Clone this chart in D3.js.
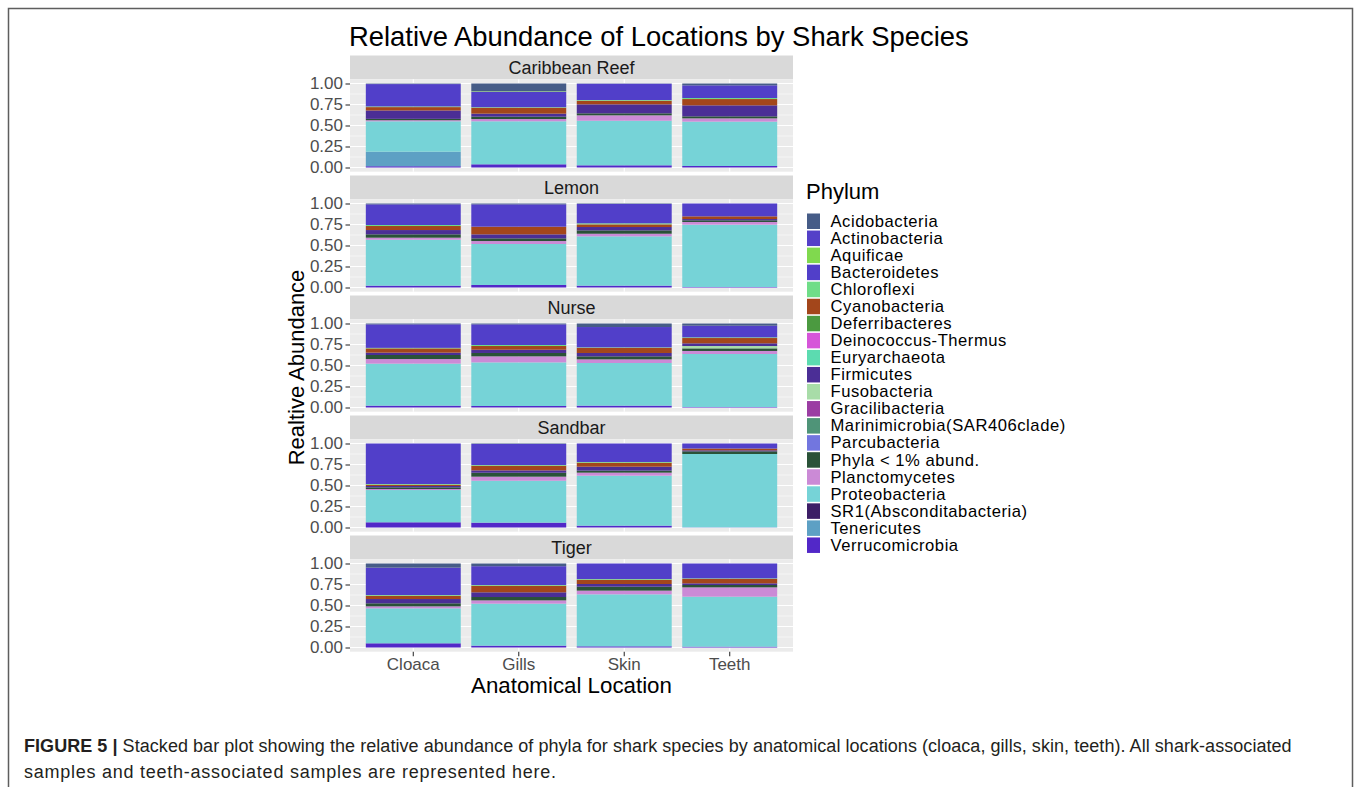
<!DOCTYPE html>
<html>
<head>
<meta charset="utf-8">
<script src="https://cdn.jsdelivr.net/npm/d3@7"></script>
<style>
  body { margin: 0; background: #fff; }
  svg { display: block; font-family: "Liberation Sans", Arial, sans-serif; }
</style>
</head>
<body>
<svg id="chart" width="1360" height="787"></svg>
<script>
// Facets (shark species) and bar categories (anatomical location)
const species = ["Caribbean Reef", "Lemon", "Nurse", "Sandbar", "Tiger"];
const locations = ["Cloaca", "Gills", "Skin", "Teeth"];
const yTicks = [0, 0.25, 0.5, 0.75, 1];

// Phyla in legend order (first level sits on top of each stack)
const phyla = [
  "Acidobacteria", "Actinobacteria", "Aquificae", "Bacteroidetes", "Chloroflexi",
  "Cyanobacteria", "Deferribacteres", "Deinococcus-Thermus", "Euryarchaeota", "Firmicutes",
  "Fusobacteria", "Gracilibacteria", "Marinimicrobia(SAR406clade)", "Parcubacteria",
  "Phyla < 1% abund.", "Planctomycetes", "Proteobacteria", "SR1(Absconditabacteria)",
  "Tenericutes", "Verrucomicrobia"
];
const phylumColors = [
  "#465c87", "#5440c8", "#80d94e", "#513fc9", "#6fdd88",
  "#a3461b", "#4b9a40", "#d655d9", "#5cdbb0", "#4b2e96",
  "#a8dca8", "#9b3da3", "#4f9478", "#7276df",
  "#2a5238", "#cb8ad6", "#76d3d7", "#3d1e66",
  "#5da0c4", "#5228c8"
];

// Relative abundance per phylum, 20 values each:
// Caribbean Reef (Cloaca, Gills, Skin, Teeth), Lemon (...), Nurse (...), Sandbar (...), Tiger (...)
const acidobacteria   = [.006,.091,.003,.022, .010,.010,.006,0,    .010,.010,.042,.026, 0,.006,0,0,       .049,.032,0,0];
const actinobacteria  = [0,0,0,0, 0,0,0,0, 0,0,0,0, 0,0,0,0, 0,0,0,0];
const aquificae       = [0,.006,0,0, 0,0,0,0, 0,0,0,0, 0,0,0,0, 0,0,0,0];
const bacteroidetes   = [.266,.185,.194,.151, .246,.266,.230,.153, .280,.246,.242,.139, .482,.250,.220,.060, .326,.224,.185,.177];
const chloroflexi     = [.008,.006,.008,.012, .012,0,.012,0,     .006,.012,.006,.008, .008,.008,.008,0,   .008,.008,.008,.006];
const cyanobacteria   = [.040,.071,.043,.075, .048,.091,.032,.032, .051,.044,.061,.063, .016,.056,.048,.021, .040,.079,.051,.053];
const deferribacteres = [0,0,0,0, 0,0,0,0, 0,0,0,0, 0,0,0,0, 0,0,0,0];
const deinococcus     = [0,0,0,0, 0,0,0,0, 0,0,0,0, 0,0,0,0, 0,0,0,0];
const euryarchaeota   = [0,0,0,0, 0,0,0,0, 0,0,0,0, 0,0,0,0, 0,0,0,0];
const firmicutes      = [.100,.036,.107,.131, .051,.048,.040,.015, .028,.039,.040,.032, .016,.028,.047,.012, .051,.056,.032,.020];
const fusobacteria    = [0,0,0,0, 0,0,0,0, 0,0,0,.028, 0,0,0,0, 0,0,0,0];
const gracilibacteria = [0,0,0,0, 0,0,0,0, 0,0,0,0, 0,0,0,0, 0,0,0,0];
const marinimicrobia  = [0,0,0,0, 0,0,0,0, 0,0,0,0, 0,0,0,0, 0,0,0,0];
const parcubacteria   = [0,0,0,0, 0,0,0,0, 0,0,0,0, 0,0,0,0, 0,0,0,0];
const phylaLowAbund   = [.016,.028,.024,.024, .040,.032,.040,.020, .048,.040,.036,.031, .020,.047,.024,.032, .036,.040,.047,.028];
const planctomycetes  = [.013,.027,.064,.039, .024,.035,.031,.032, .055,.072,.043,.036, .012,.048,.036,0,   .024,.039,.044,.111];
const proteobacteria  = [.362,.512,.531,.528, .547,.488,.587,.742, .500,.519,.508,.631, .384,.499,.595,.873, .416,.500,.619,.595];
const sr1             = [0,0,0,0, 0,0,0,0, 0,0,0,0, 0,0,0,0, 0,0,0,0];
const tenericutes     = [.173,0,0,0, 0,0,0,0, 0,0,0,0, 0,0,0,0, 0,0,0,0];
const verrucomicrobia = [.015,.038,.026,.018, .022,.030,.022,.006, .022,.018,.022,.006, .062,.058,.022,.002, .050,.022,.014,.010];

const phylumValues = [
  acidobacteria, actinobacteria, aquificae, bacteroidetes, chloroflexi,
  cyanobacteria, deferribacteres, deinococcus, euryarchaeota, firmicutes,
  fusobacteria, gracilibacteria, marinimicrobia, parcubacteria,
  phylaLowAbund, planctomycetes, proteobacteria, sr1, tenericutes, verrucomicrobia
];

// Build one row per (species, location)
const rows = [];
species.forEach((sp, si) => {
  locations.forEach((loc, li) => {
    const r = { species: sp, location: loc };
    phyla.forEach((p, pi) => { r[p] = phylumValues[pi][si * locations.length + li]; });
    rows.push(r);
  });
});

const color = d3.scaleOrdinal().domain(phyla).range(phylumColors);

// Stack from the bottom with the last level first
const stack = d3.stack().keys(phyla.slice().reverse());

const svg = d3.select("#chart");
const font = '"Liberation Sans", Arial, sans-serif';

// Figure frame
svg.append("path")
  .attr("d", "M8.5,800 V8.5 H1352.5 V800")
  .attr("fill", "none")
  .attr("stroke", "#5e5e5e")
  .attr("stroke-width", 1.5);

// Layout of the faceted panels
const panelLeft = 350, panelRight = 793;
const facetTop0 = 55.5, facetStep = 120, stripH = 23.8, panelH = 92.4;

const x = d3.scaleBand()
  .domain(locations)
  .range([panelLeft, panelRight])
  .paddingInner(0.1)
  .paddingOuter(0.15);

species.forEach((sp, si) => {
  const top = facetTop0 + si * facetStep;
  const pTop = top + stripH;
  const pBot = pTop + panelH;
  const y = d3.scaleLinear().domain([-0.05, 1.05]).range([pBot, pTop]);

  const g = svg.append("g").attr("class", "facet");

  // strip
  g.append("rect")
    .attr("x", panelLeft).attr("y", top)
    .attr("width", panelRight - panelLeft).attr("height", stripH)
    .attr("fill", "#d9d9d9");
  g.append("text")
    .attr("x", (panelLeft + panelRight) / 2)
    .attr("y", top + stripH / 2 + 6.3)
    .attr("text-anchor", "middle")
    .attr("font-size", 18)
    .attr("fill", "#1a1a1a")
    .text(sp);

  // panel background and grid
  g.append("rect")
    .attr("x", panelLeft).attr("y", pTop)
    .attr("width", panelRight - panelLeft).attr("height", panelH)
    .attr("fill", "#ebebeb");

  const minor = d3.pairs(yTicks).map(([a, b]) => (a + b) / 2);
  g.selectAll(".minor").data(minor).join("line")
    .attr("x1", panelLeft).attr("x2", panelRight)
    .attr("y1", d => y(d)).attr("y2", d => y(d))
    .attr("stroke", "#ffffff").attr("stroke-width", 0.55);
  g.selectAll(".major").data(yTicks).join("line")
    .attr("x1", panelLeft).attr("x2", panelRight)
    .attr("y1", d => y(d)).attr("y2", d => y(d))
    .attr("stroke", "#ffffff").attr("stroke-width", 1.1);
  g.selectAll(".vgrid").data(locations).join("line")
    .attr("x1", d => x(d) + x.bandwidth() / 2).attr("x2", d => x(d) + x.bandwidth() / 2)
    .attr("y1", pTop).attr("y2", pBot)
    .attr("stroke", "#ffffff").attr("stroke-width", 1.1);

  // stacked bars
  const data = rows.filter(r => r.species === sp);
  const series = stack(data);
  g.selectAll(".layer").data(series).join("g")
    .attr("fill", s => color(s.key))
    .selectAll("rect").data(s => s).join("rect")
      .attr("x", d => x(d.data.location))
      .attr("width", x.bandwidth())
      .attr("y", d => y(d[1]))
      .attr("height", d => Math.max(0, y(d[0]) - y(d[1])));

  // y axis
  const ya = g.append("g")
    .attr("transform", `translate(${panelLeft},0)`)
    .call(d3.axisLeft(y).tickValues(yTicks).tickFormat(d3.format(".2f")).tickSize(4.5).tickPadding(2.5));
  ya.select(".domain").remove();
  ya.selectAll("line").attr("stroke", "#333333").attr("stroke-width", 1.1);
  ya.selectAll("text").attr("font-size", 17).attr("fill", "#4d4d4d").attr("font-family", font);

  // x axis on the bottom facet only
  if (si === species.length - 1) {
    const xa = g.append("g")
      .attr("transform", `translate(0,${pBot})`)
      .call(d3.axisBottom(x).tickSize(4.5).tickPadding(2));
    xa.select(".domain").remove();
    xa.selectAll("line").attr("stroke", "#333333").attr("stroke-width", 1.1);
    xa.selectAll("text").attr("font-size", 17).attr("fill", "#4d4d4d").attr("font-family", font);
  }
});

// Titles
svg.append("text")
  .attr("x", 349).attr("y", 46)
  .attr("font-size", 27.4)
  .attr("fill", "#000")
  .text("Relative Abundance of Locations by Shark Species");

svg.append("text")
  .attr("x", (panelLeft + panelRight) / 2).attr("y", 692.5)
  .attr("text-anchor", "middle")
  .attr("font-size", 22.3)
  .attr("fill", "#000")
  .text("Anatomical Location");

svg.append("text")
  .attr("transform", `translate(304,${facetTop0 + stripH + (4 * facetStep + panelH) / 2 + 2}) rotate(-90)`)
  .attr("text-anchor", "middle")
  .attr("font-size", 22)
  .attr("fill", "#000")
  .text("Realtive Abundance");

// Legend
const legend = svg.append("g").attr("transform", "translate(806,0)");
legend.append("text")
  .attr("x", 0).attr("y", 199)
  .attr("font-size", 22)
  .attr("fill", "#000")
  .text("Phylum");
const keyStep = 17.05;
const items = legend.selectAll(".item").data(phyla).join("g")
  .attr("transform", (d, i) => `translate(0,${213 + i * keyStep})`);
items.append("rect")
  .attr("x", 1).attr("y", 0.5)
  .attr("width", 13).attr("height", 15.5)
  .attr("fill", d => color(d));
items.append("text")
  .attr("x", 24.5).attr("y", 13.8)
  .attr("font-size", 16.6)
  .attr("letter-spacing", 0.55)
  .attr("fill", "#000")
  .text(d => d);

// Caption
const cap = svg.append("g").attr("font-size", 18).attr("fill", "#231f20");
const line1 = cap.append("text").attr("x", 24).attr("y", 751.5).attr("letter-spacing", 0.05);
line1.append("tspan").attr("font-weight", "bold").text("FIGURE 5 | ");
line1.append("tspan").text("Stacked bar plot showing the relative abundance of phyla for shark species by anatomical locations (cloaca, gills, skin, teeth). All shark-associated");
cap.append("text").attr("x", 24).attr("y", 777.5).attr("letter-spacing", 0.75)
  .text("samples and teeth-associated samples are represented here.");
</script>
</body>
</html>
